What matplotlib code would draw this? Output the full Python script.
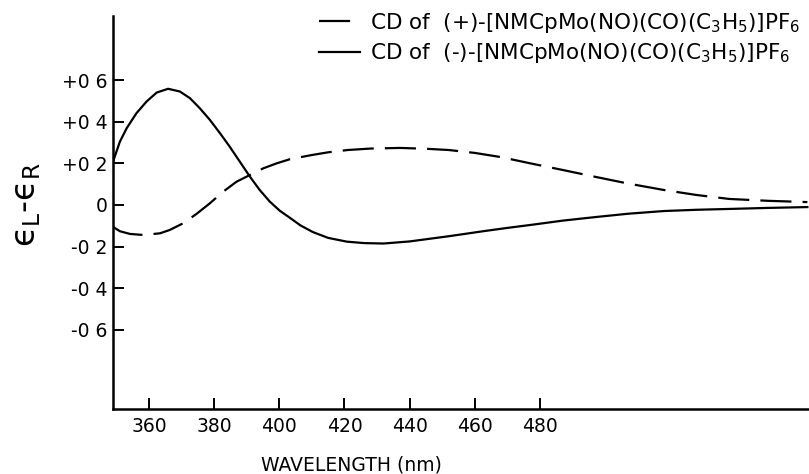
import numpy as np
import matplotlib
matplotlib.use("Agg")
import matplotlib.pyplot as plt

# wavelength (nm) and CD values
wl_minus = [349, 351.1, 353.2, 356.2, 359.3, 362.4, 365.9, 369.5, 372.6, 375.6, 378.7,
            381.8, 384.8, 387.9, 391, 394, 397.1, 400.2, 403.3, 406.5, 410.3, 415, 420.7,
            426, 432, 440, 452, 463, 470, 477, 487, 497, 507, 518, 528, 538, 550, 562]
cd_minus = [0.208, 0.304, 0.369, 0.441, 0.497, 0.540, 0.558, 0.545, 0.513, 0.465, 0.409,
            0.345, 0.280, 0.208, 0.136, 0.072, 0.016, -0.028, -0.062, -0.098, -0.13, -0.158,
            -0.176, -0.183, -0.185, -0.175, -0.15, -0.125, -0.11, -0.096, -0.075, -0.058,
            -0.042, -0.029, -0.023, -0.019, -0.014, -0.01]

wl_plus = [349, 351.1, 354.2, 358.3, 363.4, 366.4, 370.5, 374.6, 378.7, 382.8, 386.9, 391,
           395.1, 399.2, 403.3, 410, 415, 421, 428, 437, 445, 452, 460, 468, 477, 487, 497,
           507, 518, 528, 538, 550, 562]
cd_plus = [-0.105, -0.126, -0.139, -0.144, -0.136, -0.120, -0.088, -0.043, 0.008, 0.064,
           0.112, 0.144, 0.176, 0.200, 0.220, 0.24, 0.253, 0.264, 0.271, 0.274, 0.27, 0.264,
           0.25, 0.23, 0.2, 0.168, 0.135, 0.103, 0.072, 0.048, 0.029, 0.02, 0.014]

xticks = [360, 380, 400, 420, 440, 460, 480]
yticks = [0.6, 0.4, 0.2, 0.0, -0.2, -0.4, -0.6]
ytick_labels = ["+0 6", "+0 4", "+0 2", "0", "-0 2", "-0 4", "-0 6"]

lab_plus = r"CD of  (+)-[NMCpMo(NO)(CO)(C$_3$H$_5$)]PF$_6$"
lab_minus = r"CD of  (-)-[NMCpMo(NO)(CO)(C$_3$H$_5$)]PF$_6$"

fig = plt.figure(figsize=(8.09, 4.74), dpi=100)
ax = fig.add_axes([0.1397, 0.137, 0.8603, 0.829])

ax.plot(wl_plus, cd_plus, color="black", lw=1.6, dashes=(14, 5), label=lab_plus)
ax.plot(wl_minus, cd_minus, color="black", lw=1.6, label=lab_minus)

ax.set_xlim(349, 562.5)
ax.set_ylim(-0.98, 0.907)

ax.spines["top"].set_visible(False)
ax.spines["right"].set_visible(False)
ax.spines["left"].set_linewidth(1.8)
ax.spines["bottom"].set_linewidth(1.8)

ax.set_xticks(xticks)
ax.set_yticks(yticks)
ax.set_yticklabels(ytick_labels)
ax.tick_params(direction="in", length=8, width=1.4, labelsize=13.5, pad=6)
ax.tick_params(axis="y", pad=4)

# lunate epsilon as in the original
ax.set_ylabel("\u03f5$_\\mathrm{L}$-\u03f5$_\\mathrm{R}$", fontsize=24)
ax.yaxis.set_label_coords(-0.1, 0.52)
fig.text(0.435, 0.019, "WAVELENGTH (nm)", fontsize=13.5, ha="center", va="center")

ax.legend(loc="upper right", bbox_to_anchor=(1.0, 1.035), frameon=False, fontsize=15.5,
          handlelength=1.9, handletextpad=0.45, labelspacing=0.3, borderaxespad=0)

fig.savefig("out.png", dpi=100)
